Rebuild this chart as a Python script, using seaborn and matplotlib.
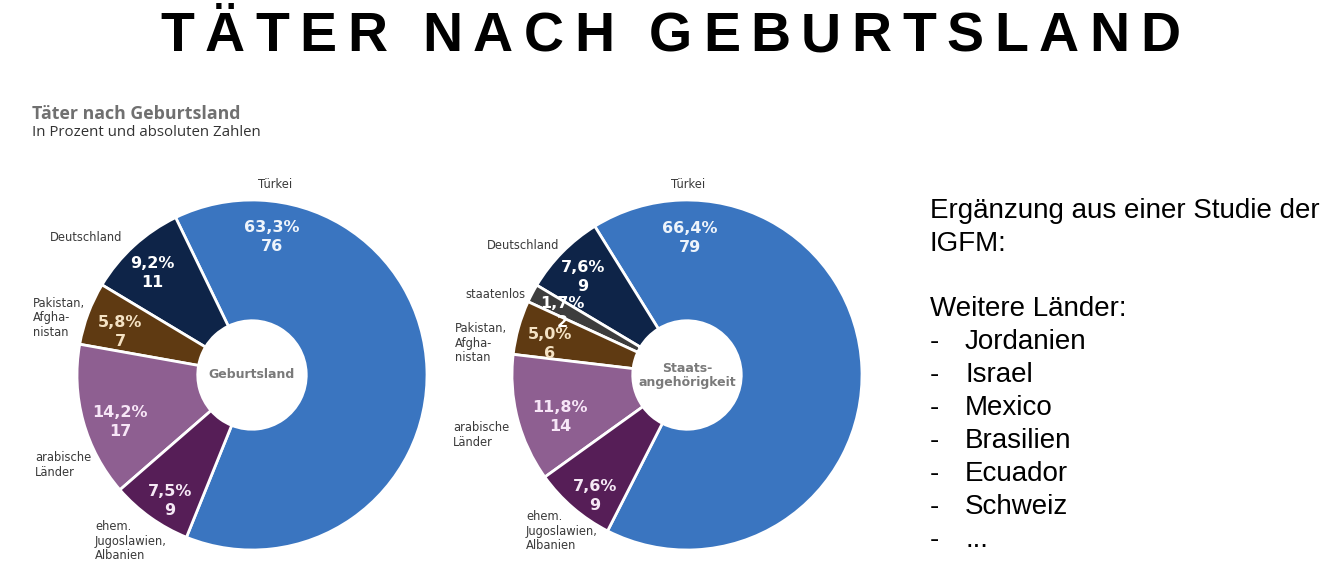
import matplotlib as mpl

mpl.use("agg")
import matplotlib.pyplot as plt  # noqa: E402
import seaborn as sns  # noqa: E402

sns.set_theme(style="white")
plt.rcParams["font.family"] = ["DejaVu Sans"]

# data
geburt_labels = ["Türkei", "Deutschland", "Pakistan,\nAfgha-\nnistan",
                 "arabische\nLänder", "ehem.\nJugoslawien,\nAlbanien"]
geburt_pct = [63.3, 9.2, 5.8, 14.2, 7.5]
geburt_n = [76, 11, 7, 17, 9]

staat_labels = ["Türkei", "Deutschland", "staatenlos", "Pakistan,\nAfgha-\nnistan",
                "arabische\nLänder", "ehem.\nJugoslawien,\nAlbanien"]
staat_pct = [66.4, 7.6, 1.7, 5.0, 11.8, 7.6]
staat_n = [79, 9, 2, 6, 14, 9]

weitere = ["Jordanien", "Israel", "Mexico", "Brasilien", "Ecuador", "Schweiz", "..."]

pal = {
    "Türkei": "#3a75c0",
    "Deutschland": "#0e2448",
    "staatenlos": "#3d3d3d",
    "Pakistan": "#5f3a12",
    "arabische": "#8e5f91",
    "ehem.": "#561e57",
}
txt_col = {
    "Türkei": "#eef4fb",
    "Deutschland": "#ffffff",
    "staatenlos": "#ffffff",
    "Pakistan": "#f4e2c4",
    "arabische": "#f7e6f7",
    "ehem.": "#f5e8f5",
}

W, H = 1335, 588
R = 175


def fx(x):
    return x / W


def fy(y):
    return 1 - y / H


fig = plt.figure(figsize=(W / 100, H / 100), dpi=100)

# title with wide letter spacing
title = "TÄTER NACH GEBURTSLAND"
renderer = fig.canvas.get_renderer()
widths = []
for ch in title:
    t = fig.text(0, 0, ch if ch != " " else "N", fontsize=40, fontweight="bold",
                 family="Liberation Sans")
    bb = t.get_window_extent(renderer)
    widths.append(bb.width if ch != " " else bb.width * 0.35)
    t.remove()
x0, x1 = 160, 1180
track = (x1 - x0 - sum(widths)) / (len(title) - 1)
x = x0
for ch, w in zip(title, widths):
    if ch != " ":
        fig.text(fx(x), fy(37), ch, fontsize=40, fontweight="bold",
                 family="Liberation Sans", va="center", ha="left", color="black")
    x += w + track

fig.text(fx(32), fy(114), "Täter nach Geburtsland", fontsize=12.8, fontweight="bold",
         family="Open Sans", color="#707070", va="center")
fig.text(fx(32), fy(133), "In Prozent und absoluten Zahlen", fontsize=10.8,
         family="Open Sans", color="#333333", va="center")


def donut(cx, cy, labels, pct, n, start, center_text, inner_pos, outer_pos):
    ax = fig.add_axes([fx(cx - R), fy(cy + R), 2 * R / W, 2 * R / H])
    keys = [lab.split(",")[0].split("\n")[0] for lab in labels]
    wedges, _ = ax.pie(pct, colors=[pal[k] for k in keys], startangle=start,
                       counterclock=True, radius=1,
                       wedgeprops=dict(width=0.69, edgecolor="white", linewidth=2))
    ax.set_xlim(-1, 1)
    ax.set_ylim(-1, 1)
    ax.axis("off")
    for k, p, c, (px, py) in zip(keys, pct, n, inner_pos):
        s = f"{p:.1f}%".replace(".", ",") + f"\n{c}"
        ax.text((px - cx) / R, (cy - py) / R, s, ha="center", va="center",
                fontsize=11.5, fontweight="bold", color=txt_col[k], linespacing=1.3)
    for lab, (px, py, ha) in zip(labels, outer_pos):
        fig.text(fx(px), fy(py), lab, ha=ha, va="center", fontsize=8.3,
                 color="#3a3a3a", linespacing=1.15)
    ax.text(0, 0, center_text, ha="center", va="center", fontsize=9,
            fontweight="bold", color="#7a7a7a", linespacing=1.1)


donut(252, 375, geburt_labels, geburt_pct, geburt_n, -112, "Geburtsland",
      [(272, 237), (152, 273), (120, 332), (120, 422), (170, 501)],
      [(275, 184, "center"), (50, 237, "left"), (33, 318, "left"),
       (35, 465, "left"), (95, 541, "left")])

donut(687, 375, staat_labels, staat_pct, staat_n, -117, "Staats-\nangehörigkeit",
      [(690, 238), (583, 277), (562, 313), (550, 344), (560, 417), (595, 496)],
      [(688, 184, "center"), (487, 245, "left"), (465, 295, "left"),
       (455, 343, "left"), (453, 435, "left"), (526, 531, "left")])

# right-hand notes
fs = 20
note = dict(fontsize=fs, family="Liberation Sans", va="center", color="black")
fig.text(fx(930), fy(211), "Ergänzung aus einer Studie der", **note)
fig.text(fx(930), fy(244), "IGFM:", **note)
fig.text(fx(930), fy(309), "Weitere Länder:", **note)
for i, item in enumerate(weitere):
    yy = 342 + i * 33
    fig.text(fx(930), fy(yy), "-", **note)
    fig.text(fx(965), fy(yy), item, **note)

fig.savefig("out.png", dpi=100, facecolor="white")
